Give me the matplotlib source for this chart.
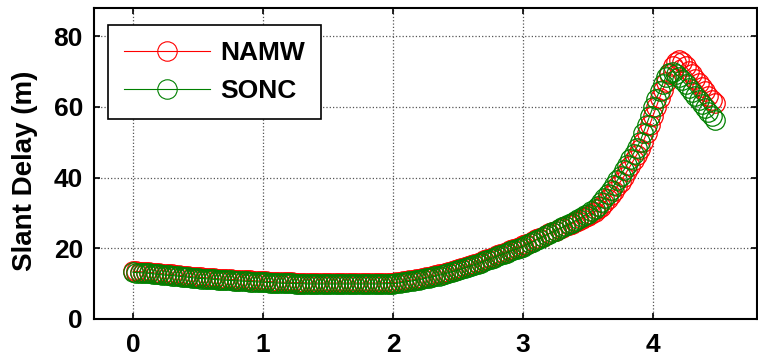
import numpy as np
import matplotlib
matplotlib.use("Agg")
import matplotlib.pyplot as plt

# Slant delay series (m), sampled every 0.025
x = np.round(np.arange(180) * 0.025, 3)

sonc = [13.2, 13.15, 13.1, 13.05, 13.0, 12.9, 12.8, 12.7, 12.6, 12.5,
        12.4, 12.35, 12.3, 12.2, 12.1, 12.0, 11.9, 11.8, 11.7, 11.6,
        11.5, 11.45, 11.4, 11.35, 11.3, 11.2, 11.1, 11.05, 11.0, 10.95,
        10.9, 10.85, 10.8, 10.75, 10.7, 10.65, 10.6, 10.55, 10.5, 10.45,
        10.4, 10.35, 10.3, 10.25, 10.2, 10.15, 10.1, 10.1, 10.1, 10.05,
        10.0, 10.0, 10.0, 9.95, 9.9, 9.9, 9.9, 9.9, 9.9, 9.9,
        9.9, 9.9, 9.9, 9.9, 9.9, 9.9, 9.9, 9.9, 9.9, 9.9,
        9.9, 9.9, 9.9, 9.9, 9.9, 9.9, 9.9, 9.95, 10.0, 10.0,
        10.0, 10.1, 10.2, 10.35, 10.5, 10.65, 10.8, 10.95, 11.1, 11.3,
        11.5, 11.7, 11.9, 12.1, 12.3, 12.55, 12.8, 13.05, 13.3, 13.55,
        13.8, 14.1, 14.4, 14.7, 15.0, 15.3, 15.6, 15.95, 16.3, 16.65,
        17.0, 17.35, 17.7, 18.05, 18.4, 18.75, 19.1, 19.45, 19.8, 20.15,
        20.5, 20.95, 21.4, 21.85, 22.3, 22.75, 23.2, 23.65, 24.1, 24.55,
        25.0, 25.45, 25.9, 26.35, 26.8, 27.3, 27.8, 28.3, 28.8, 29.3,
        29.8, 30.45, 31.2, 32.05, 33.0, 34.1, 35.3, 36.5, 37.8, 39.2,
        40.6, 42.1, 43.6, 45.2, 46.8, 48.5, 50.2, 52.6, 55.0, 57.5,
        60.0, 62.3, 64.5, 66.6, 68.5, 69.7, 70.0, 69.3, 68.5, 67.5,
        66.5, 65.4, 64.3, 63.1, 62.0, 60.9, 59.8, 58.6, 57.3, 56.3]

namw = [13.5, 13.45, 13.4, 13.35, 13.3, 13.2, 13.1, 13.0, 12.9, 12.8,
        12.7, 12.65, 12.6, 12.5, 12.4, 12.3, 12.2, 12.1, 12.0, 11.9,
        11.8, 11.75, 11.7, 11.65, 11.6, 11.5, 11.4, 11.35, 11.3, 11.25,
        11.2, 11.15, 11.1, 11.05, 11.0, 10.95, 10.9, 10.85, 10.8, 10.75,
        10.7, 10.65, 10.6, 10.55, 10.5, 10.45, 10.4, 10.4, 10.4, 10.35,
        10.3, 10.3, 10.3, 10.25, 10.2, 10.2, 10.2, 10.2, 10.2, 10.2,
        10.2, 10.2, 10.2, 10.2, 10.2, 10.2, 10.2, 10.2, 10.2, 10.2,
        10.2, 10.2, 10.2, 10.2, 10.2, 10.2, 10.2, 10.25, 10.3, 10.3,
        10.3, 10.4, 10.5, 10.65, 10.8, 10.95, 11.1, 11.25, 11.4, 11.6,
        11.8, 12.0, 12.2, 12.4, 12.6, 12.85, 13.1, 13.35, 13.6, 13.85,
        14.1, 14.4, 14.7, 15.0, 15.3, 15.6, 15.9, 16.25, 16.6, 16.95,
        17.3, 17.65, 18.0, 18.35, 18.7, 19.05, 19.4, 19.75, 20.1, 20.45,
        20.8, 21.2, 21.6, 22.05, 22.5, 22.9, 23.3, 23.75, 24.2, 24.6,
        25.0, 25.4, 25.8, 26.2, 26.6, 27.0, 27.4, 27.85, 28.3, 28.75,
        29.2, 29.7, 30.3, 31.0, 31.8, 32.8, 33.9, 35.0, 36.2, 37.5,
        38.9, 40.3, 41.8, 43.3, 44.9, 46.5, 48.2, 50.2, 52.5, 55.0,
        57.5, 60.0, 62.5, 64.8, 67.0, 69.3, 71.5, 72.8, 73.3, 72.6,
        71.5, 70.3, 69.2, 68.0, 66.8, 65.6, 64.4, 63.2, 62.0, 61.0]

assert len(sonc) == len(x) and len(namw) == len(x)

xticks = [0, 1, 2, 3, 4]
yticks = [0, 20, 40, 60, 80]

plt.rcParams['font.family'] = ['Liberation Sans', 'DejaVu Sans']
plt.rcParams['font.weight'] = 'bold'

fig = plt.figure(figsize=(7.58, 3.61), dpi=100)
ax = fig.add_axes([94/758, 1 - 319/361, 663/758, 311/361])

ax.plot(x, namw, '-o', color='#ff0000', lw=0.8, ms=14, mfc='none', mew=0.9, label='NAMW')
ax.plot(x, sonc, '-o', color='#008000', lw=0.8, ms=14, mfc='none', mew=0.9, label='SONC')

ax.set_xlim(-0.3, 4.8)
ax.set_ylim(0, 88)
ax.set_xticks(xticks)
ax.set_yticks(yticks)
ax.tick_params(direction='in', top=True, right=True, length=4, width=1.2,
               labelsize=19)
ax.tick_params(axis='x', pad=10)
ax.tick_params(axis='y', pad=8)
for lab in ax.get_xticklabels() + ax.get_yticklabels():
    lab.set_fontweight('bold')

ax.grid(True, linestyle=':', color='#555555', linewidth=0.9)
for s in ax.spines.values():
    s.set_linewidth(1.5)

ax.set_ylabel('Slant Delay (m)', fontsize=20, fontweight='bold')
ax.yaxis.set_label_coords(-0.085, 0.476)

leg = ax.legend(loc='upper left', bbox_to_anchor=(0.021, 0.945), borderaxespad=0,
                fancybox=False, framealpha=1, edgecolor='black',
                prop={'size': 19, 'weight': 'bold'}, handlelength=3.25,
                handletextpad=0.42, labelspacing=0.55, borderpad=0.6)
leg.get_frame().set_linewidth(1.2)
for h in leg.legend_handles:
    h.set_markeredgewidth(0.8)

fig.savefig('out.png', dpi=100)
